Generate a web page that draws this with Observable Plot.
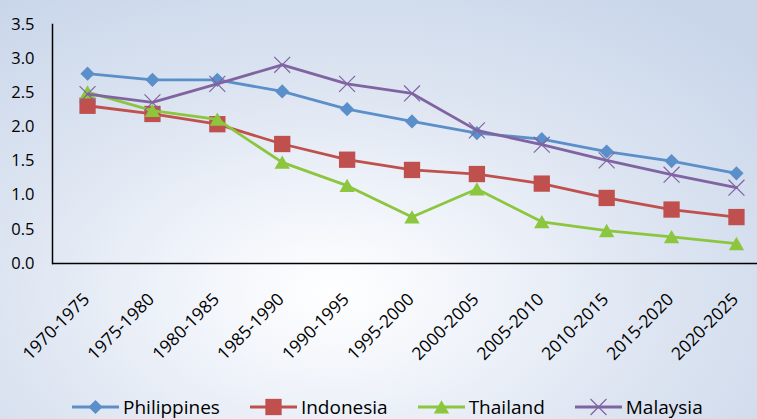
<!DOCTYPE html>
<html><head><meta charset="utf-8">
<script src="https://cdn.jsdelivr.net/npm/d3@7"></script>
<script src="https://cdn.jsdelivr.net/npm/@observablehq/plot@0.6"></script>
<style>
html,body{margin:0;padding:0;width:757px;height:419px;overflow:hidden;}
body{background: radial-gradient(ellipse 75% 85% at 44% 70%, #ffffff 0%, #eef2f9 30%, #dce4f1 60%, #c9d6ea 100%); font-family:"Open Sans", sans-serif; position:relative;}
#chart{position:absolute;left:0;top:0;}
#chart svg{max-width:none !important;}
#legend{position:absolute;left:72px;top:397px;height:20px;line-height:20px;display:flex;align-items:center;gap:30px;font-size:19px;color:#000;white-space:nowrap;}
#legend .item{display:flex;align-items:center;gap:4px;height:20px;}
#legend svg{display:block;}
</style></head><body>
<div id="chart"></div>
<div id="legend"></div>
<script>
const periods = ["1970-1975","1975-1980","1980-1985","1985-1990","1990-1995","1995-2000","2000-2005","2005-2010","2010-2015","2015-2020","2020-2025"];
const countries = ["Philippines","Indonesia","Thailand","Malaysia"];
const philippines = [2.78,2.69,2.69,2.52,2.26,2.08,1.91,1.82,1.64,1.50,1.32];
const indonesia   = [2.31,2.19,2.04,1.75,1.52,1.37,1.31,1.17,0.96,0.79,0.68];
const thailand    = [2.51,2.24,2.11,1.48,1.14,0.68,1.09,0.61,0.48,0.39,0.29];
const malaysia    = [2.48,2.36,2.63,2.91,2.63,2.49,1.95,1.74,1.51,1.30,1.11];
const yTicks = [0,0.5,1,1.5,2,2.5,3,3.5];

const colors = ["#5B8FCA","#C0504D","#8CC63E","#8064A2"];
const seriesValues = [philippines, indonesia, thailand, malaysia];
const symbols = [
  {symbol:"diamond2", r:6.4, filled:true, dy:0},
  {symbol:"square", r:9.2, filled:true, dy:0},
  {symbol:"triangle", r:5.7, filled:true, dy:2},
  {symbol:"times", r:7.3, filled:false, dy:0}
];

const rows = [];
countries.forEach((c, i) => periods.forEach((p, j) => rows.push({country:c, period:p, value:seriesValues[i][j]})));

const marks = [
  Plot.ruleY([0], {stroke:"#000", strokeWidth:1.5}),
  Plot.frame({anchor:"left", stroke:"#000", strokeWidth:1.5}),
  Plot.axisY({ticks:yTicks, tickSize:0, tickPadding:18, tickFormat:d3.format(".1f"), fontSize:16.5, fill:"#000", label:null}),
  Plot.text(periods, {x:d=>d, frameAnchor:"bottom", dx:-1, dy:33, rotate:-45, textAnchor:"end", lineAnchor:"middle", fontSize:17.5, fill:"#000"})
];
countries.forEach((c, i) => {
  const data = rows.filter(d => d.country === c);
  marks.push(Plot.line(data, {x:"period", y:"value", stroke:colors[i], strokeWidth:2.8}));
  const s = symbols[i];
  marks.push(Plot.dot(data, s.filled
    ? {x:"period", y:"value", symbol:s.symbol, r:s.r, fill:colors[i], stroke:"none", dy:s.dy}
    : {x:"period", y:"value", symbol:s.symbol, r:s.r, fill:"none", stroke:colors[i], strokeWidth:1.2, dy:s.dy}));
});

const chart = Plot.plot({
  width: 771, height: 385,
  marginLeft: 52, marginRight: 0, marginTop: 24, marginBottom: 122,
  x: {type:"point", domain:periods, padding:0.54, round:false, axis:null},
  y: {domain:[0,3.5], axis:null},
  style: {fontFamily:"Open Sans, sans-serif", fontSize:"17px", color:"#000", background:"transparent", overflow:"visible", maxWidth:"none"},
  marks
});
document.getElementById("chart").appendChild(chart);

// legend
const legend = d3.select("#legend");
const typeMap = {diamond2:d3.symbolDiamond2, square:d3.symbolSquare, triangle:d3.symbolTriangle, times:d3.symbolTimes};
countries.forEach((c, i) => {
  const item = legend.append("div").attr("class","item");
  const svg = item.append("svg").attr("width",47).attr("height",20);
  svg.append("line").attr("x1",0).attr("x2",47).attr("y1",10).attr("y2",10).attr("stroke",colors[i]).attr("stroke-width",2.8);
  const s = symbols[i];
  const path = d3.symbol(typeMap[s.symbol], Math.PI*s.r*s.r)();
  const g = svg.append("path").attr("d", path).attr("transform", `translate(23.5,${10 + s.dy})`);
  if (s.filled) g.attr("fill", colors[i]); else g.attr("fill","none").attr("stroke",colors[i]).attr("stroke-width",1.2);
  item.append("span").text(c);
});
</script>
</body></html>
